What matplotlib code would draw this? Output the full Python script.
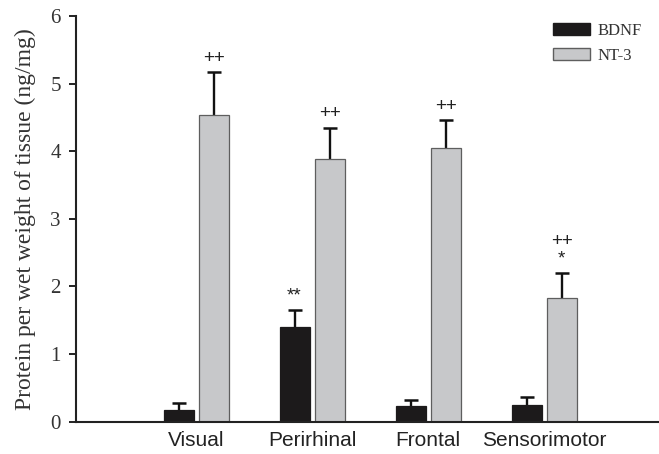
import matplotlib
matplotlib.use("Agg")
import matplotlib.pyplot as plt
import numpy as np
from matplotlib.patches import Patch

categories = ["Visual", "Perirhinal", "Frontal", "Sensorimotor"]
bdnf = [0.18, 1.40, 0.23, 0.25]
bdnf_err = [0.09, 0.25, 0.09, 0.12]
nt3 = [4.54, 3.88, 4.05, 1.83]
nt3_err = [0.63, 0.47, 0.41, 0.37]
bdnf_marks = ["", "**", "", ""]
nt3_marks = ["++", "++", "++", "++\n*"]
yticks = [0, 1, 2, 3, 4, 5, 6]

fig = plt.figure(figsize=(6.59, 4.54), dpi=100)
ax = fig.add_axes([76/659, 32.3/454, 583/659, 405.7/454])

x = np.arange(len(categories))
w = 30/116
off = 17.5/116
zeros = np.zeros(len(categories))

series = [
    (x - off, np.array(bdnf), np.array(bdnf_err), "#1c1a1b", "#1c1a1b", "BDNF", bdnf_marks),
    (x + off, np.array(nt3), np.array(nt3_err), "#c7c8ca", "#5e5e5e", "NT-3", nt3_marks),
]
for xp, vals, errs, fc, ec, lab, marks in series:
    ax.bar(xp, vals, w, color=fc, edgecolor=ec, linewidth=0.9, label=lab, zorder=2)
    ax.errorbar(xp, vals, yerr=[zeros, errs], fmt="none", ecolor="#111111",
                elinewidth=1.7, capsize=0, zorder=1)
    ax.plot(xp, vals + errs, ls="none", marker="_", ms=10.5, mew=1.8,
            color="#111111", zorder=1)
    for i in range(len(categories)):
        if marks[i]:
            ax.annotate(marks[i], (xp[i], vals[i] + errs[i]), xytext=(0, 4),
                        textcoords="offset points", ha="center", va="bottom",
                        fontsize=13.5, family="Liberation Sans", color="#222222",
                        linespacing=1.05)

ax.set_xlim(-120/116, -120/116 + 583/116)
ax.set_ylim(0, 6)
ax.set_yticks(yticks)
ax.set_yticklabels([str(t) for t in yticks], family="Liberation Serif", fontsize=15, color="#333333")
ax.set_xticks(x)
ax.set_xticklabels(categories, family="Liberation Sans", fontsize=15, color="#222222")
ax.tick_params(axis="x", length=0, pad=7)
ax.tick_params(axis="y", length=5, width=1.4, direction="out", pad=6, color="#222222")
ax.set_ylabel("Protein per wet weight of tissue (ng/mg)", family="Liberation Serif",
              fontsize=17, color="#333333", labelpad=10)
for s in ["top", "right"]:
    ax.spines[s].set_visible(False)
for s in ["left", "bottom"]:
    ax.spines[s].set_linewidth(1.5)
    ax.spines[s].set_color("#222222")

handles = [Patch(facecolor="#1c1a1b", edgecolor="#1c1a1b", label="BDNF"),
           Patch(facecolor="#c7c8ca", edgecolor="#5e5e5e", label="NT-3")]
ax.legend(handles=handles, loc="upper left", bbox_to_anchor=((553-76)/583, (421.7-23)/405.7),
          frameon=False, borderpad=0, borderaxespad=0,
          prop={"family": "Liberation Serif", "size": 12}, handlelength=2.2, handleheight=0.75,
          labelcolor="#333333", handletextpad=0.5, labelspacing=0.55)

fig.savefig("out.png", dpi=100)
